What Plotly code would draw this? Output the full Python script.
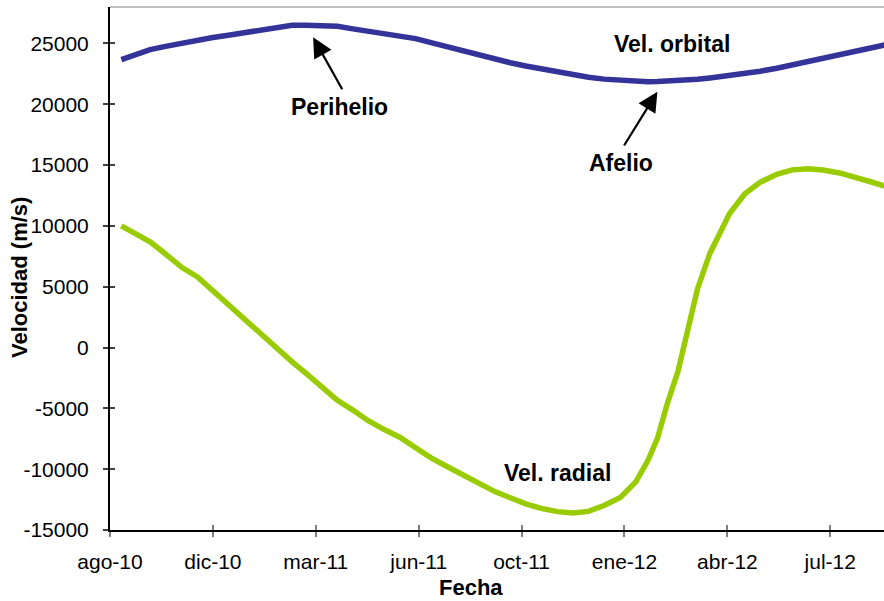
import plotly.graph_objects as go

# Sample dates (both series share them)
fechas = [
    "2010-09-07", "2010-09-20", "2010-10-05", "2010-10-20", "2010-11-05", "2010-11-20",
    "2010-12-05", "2010-12-20", "2011-01-05", "2011-01-20", "2011-02-05", "2011-02-20",
    "2011-03-05", "2011-03-20", "2011-04-05", "2011-04-20", "2011-05-05", "2011-05-20",
    "2011-06-05", "2011-06-20", "2011-07-05", "2011-07-20", "2011-08-05", "2011-08-20",
    "2011-09-05", "2011-09-20", "2011-10-05", "2011-10-20", "2011-11-05", "2011-11-20",
    "2011-12-05", "2011-12-20", "2012-01-05", "2012-01-20", "2012-02-01", "2012-02-10",
    "2012-02-20", "2012-03-01", "2012-03-10", "2012-03-20", "2012-04-01", "2012-04-10",
    "2012-04-20", "2012-05-05", "2012-05-20", "2012-06-05", "2012-06-20", "2012-07-05",
    "2012-07-20", "2012-08-05", "2012-08-20", "2012-09-05", "2012-09-20",
]

# Orbital velocity (m/s)
vel_orbital = [
    23670, 24055, 24500, 24765, 25035, 25290, 25490, 25680, 25910, 26130, 26345, 26500,
    26500, 26500, 26420, 26200, 26030, 25850, 25630, 25400, 25070, 24730, 24390, 24070,
    23735, 23415, 23150, 22895, 22640, 22415, 22225, 22070, 21950, 21895, 21850, 21870,
    21895, 21945, 22000, 22055, 22170, 22260, 22365, 22540, 22720, 22965, 23230, 23485,
    23740, 24015, 24290, 24595, 24920,
]

# Radial velocity (m/s)
vel_radial = [
    10000, 9430, 8690, 7690, 6580, 5810, 4650, 3640, 2310, 1240, -50, -1180,
    -2090, -3210, -4330, -5140, -6010, -6720, -7390, -8240, -9070, -9760, -10440, -11130,
    -11840, -12350, -12850, -13220, -13490, -13610, -13470, -12985, -12330, -11040, -9255, -7470,
    -4500, -1950, 1490, 4840, 7740, 9270, 11000, 12650, 13600, 14250, 14610, 14710,
    14600, 14355, 14050, 13610, 13220,
]

# Axis ticks
x_tick_fechas = ["2010-08-27", "2010-12-05", "2011-03-15", "2011-06-23",
                 "2011-10-01", "2012-01-09", "2012-04-18", "2012-07-27"]
x_tick_labels = ["ago-10", "dic-10", "mar-11", "jun-11", "oct-11", "ene-12", "abr-12", "jul-12"]
y_tick_vals = [-15000, -10000, -5000, 0, 5000, 10000, 15000, 20000, 25000]
y_tick_labels = ["-15000", "-10000", "-5000", "0", "5000", "10000", "15000", "20000", "25000"]

x_range = ["2010-08-27", "2012-09-17 05:00"]
y_range = [-15000, 28000]

FONT = "Arial, 'Liberation Sans', sans-serif"

fig = go.Figure()
fig.add_trace(go.Scatter(x=fechas, y=vel_orbital, mode="lines",
                         line=dict(color="#333399", width=5.5), hoverinfo="skip"))
fig.add_trace(go.Scatter(x=fechas, y=vel_radial, mode="lines",
                         line=dict(color="#99CC00", width=5.5), hoverinfo="skip"))
# empty trace on the overlay axes that carry the inner half of the tick marks
fig.add_trace(go.Scatter(x=[], y=[], xaxis="x2", yaxis="y2", hoverinfo="skip"))

common_x = dict(type="date", range=x_range, tickvals=x_tick_fechas, showgrid=False,
                zeroline=False, ticklen=5, tickwidth=1.5, tickcolor="#808080")
common_y = dict(range=y_range, tickvals=y_tick_vals, showgrid=False, zeroline=False,
                ticklen=5, tickwidth=1.5, tickcolor="#404040")

fig.update_layout(
    width=884, height=601,
    margin=dict(l=110, r=0, t=7, b=71),
    plot_bgcolor="white", paper_bgcolor="white",
    showlegend=False,
    font=dict(family=FONT, size=21, color="black"),
    xaxis=dict(**common_x, ticktext=x_tick_labels, ticks="outside",
               showline=True, linecolor="black", linewidth=2,
               tickfont=dict(size=21), ticklabelstandoff=7),
    yaxis=dict(**common_y, ticktext=y_tick_labels, ticks="outside",
               showline=True, linecolor="black", linewidth=2,
               tickfont=dict(size=21), ticklabelstandoff=10),
    xaxis2=dict(**common_x, overlaying="x", anchor="y2", ticks="inside",
                showticklabels=False, showline=False),
    yaxis2=dict(**common_y, overlaying="y", anchor="x2", ticks="inside",
                showticklabels=False, showline=False),
    shapes=[dict(type="line", xref="paper", yref="paper", x0=0, x1=1, y0=1, y1=1,
                 line=dict(color="#808080", width=1))],
)

ann_font = dict(family=FONT, size=23, color="black")
title_font = dict(family=FONT, size=22, color="black")

# series labels
fig.add_annotation(x="2012-02-24", y=24960, text="<b>Vel. orbital</b>", showarrow=False,
                   font=ann_font, xanchor="center", yanchor="middle")
fig.add_annotation(x="2011-11-05", y=-10300, text="<b>Vel. radial</b>", showarrow=False,
                   font=ann_font, xanchor="center", yanchor="middle")

# perihelion / aphelion labels with arrows
fig.add_annotation(x="2011-04-07", y=19780, text="<b>Perihelio</b>", showarrow=False,
                   font=ann_font, xanchor="center", yanchor="middle")
fig.add_annotation(x="2012-01-06", y=15170, text="<b>Afelio</b>", showarrow=False,
                   font=ann_font, xanchor="center", yanchor="middle")
arrow = dict(text="", showarrow=True, arrowhead=2, arrowsize=1.8, arrowwidth=2.2,
             arrowcolor="black", axref="x", ayref="y", standoff=0, startstandoff=0)
fig.add_annotation(x="2011-03-12 10:00", y=25505, ax="2011-04-10 12:00", ay=21118, **arrow)
fig.add_annotation(x="2012-02-10", y=21035, ax="2012-01-07 17:00", ay=16490, **arrow)

# axis titles
fig.add_annotation(xref="paper", yref="paper", x=-0.1176, y=0.4837,
                   text="<b>Velocidad (m/s)</b>", textangle=-90, showarrow=False,
                   font=title_font, xanchor="center", yanchor="middle")
fig.add_annotation(xref="paper", yref="paper", x=0.4664, y=-0.1090,
                   text="<b>Fecha</b>", showarrow=False,
                   font=title_font, xanchor="center", yanchor="middle")

fig.write_html("out.html")
